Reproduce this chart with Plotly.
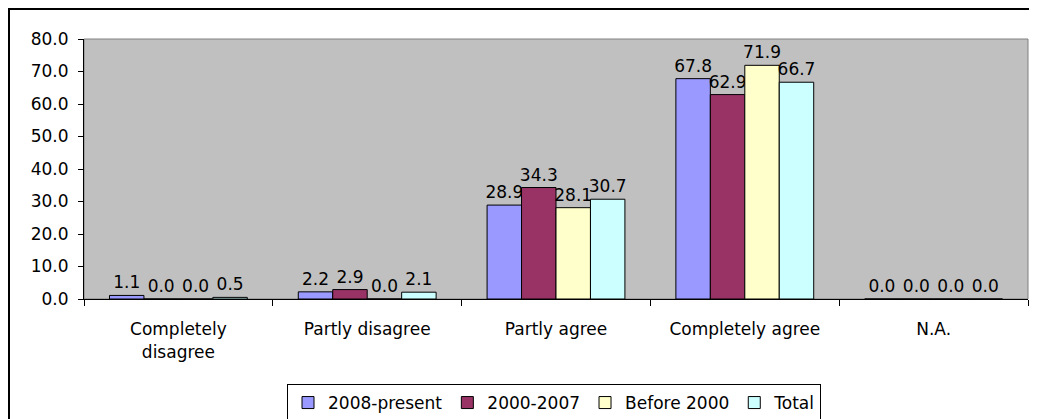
import plotly.graph_objects as go

# Survey answers per period
categories = ["Completely<br>disagree", "Partly disagree", "Partly agree", "Completely agree", "N.A."]
series_names = ["2008-present", "2000-2007", "Before 2000", "Total"]
recent = [1.1, 2.2, 28.9, 67.8, 0.0]
mid = [0.0, 2.9, 34.3, 62.9, 0.0]
before_2000 = [0.0, 0.0, 28.1, 71.9, 0.0]
total = [0.5, 2.1, 30.7, 66.7, 0.0]
y_ticks = [0, 10, 20, 30, 40, 50, 60, 70, 80]

colors = ["#9999FF", "#993366", "#FFFFCC", "#CCFFFF"]
font_family = "DejaVu Sans, Liberation Sans, Arial, sans-serif"

W, H = 1029, 411
L, R, T, B = 76, 9, 31, 120
plot_w = W - L - R
plot_h = H - T - B

fig = go.Figure()
for name, values, color in zip(series_names, [recent, mid, before_2000, total], colors):
    fig.add_trace(go.Bar(
        x=categories,
        y=values,
        name=name,
        marker=dict(color=color, line=dict(color="black", width=1)),
        text=[f"{v:.1f}" for v in values],
        textposition="outside",
        textfont=dict(size=17, color="black", family=font_family),
        constraintext="none",
        cliponaxis=False,
    ))

fig.update_layout(
    width=W,
    height=H,
    margin=dict(l=L, r=R, t=T, b=B, autoexpand=False),
    paper_bgcolor="white",
    plot_bgcolor="#C0C0C0",
    barmode="group",
    bargap=0.27,
    bargroupgap=0,
    font=dict(family=font_family, size=17, color="black"),
    showlegend=True,
    legend=dict(
        orientation="h",
        xref="container", yref="container",
        x=546 / W, xanchor="center",
        y=1 - 376 / H, yanchor="top",
        bordercolor="black", borderwidth=1,
        bgcolor="white",
        font=dict(size=17),
        itemwidth=30,
        tracegroupgap=0,
    ),
    xaxis=dict(
        showline=True, linecolor="black", linewidth=1,
        ticks="outside", ticklen=6, tickcolor="black",
        tickson="boundaries",
        ticklabelstandoff=15,
        showgrid=False,
        tickfont=dict(size=17),
    ),
    yaxis=dict(
        range=[0, 80],
        tickvals=y_ticks,
        ticktext=[f"{v:.1f}" for v in y_ticks],
        showline=True, linecolor="black", linewidth=1,
        ticks="outside", ticklen=5, tickcolor="black",
        ticklabelstandoff=6,
        showgrid=False, zeroline=False,
        tickfont=dict(size=17),
    ),
    shapes=[
        # plot area border (gray top/right)
        dict(type="rect", xref="paper", yref="paper", x0=0, x1=1, y0=0, y1=1,
             line=dict(color="#808080", width=1), layer="below"),
        # outer chart frame, open to the right and bottom like the original
        dict(type="rect", xref="paper", yref="paper",
             x0=(1 - L) / plot_w, x1=1 + 30 / plot_w,
             y0=-(B + 30) / plot_h, y1=1 + (T - 1) / plot_h,
             line=dict(color="black", width=2)),
    ],
)

fig.write_html("out.html")
